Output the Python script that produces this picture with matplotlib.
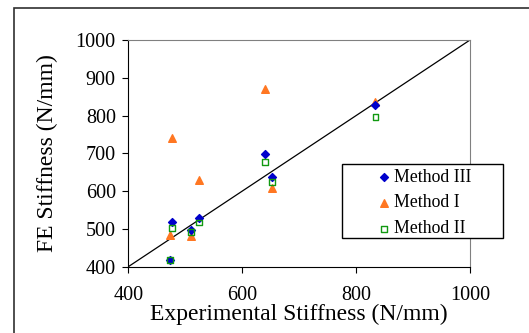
import matplotlib
matplotlib.use("Agg")
import matplotlib.pyplot as plt
from matplotlib.patches import Rectangle

# Data
exp_stiffness = [473, 476, 510, 524, 640, 653, 834]
method3 = [419, 517, 496, 530, 699, 637, 828]
method1 = [485, 740, 481, 629, 869, 609, 837]
method2 = [417, 503, 491, 517, 678, 623, 797]

ticks = [400, 600, 800, 1000]
yticks = [400, 500, 600, 700, 800, 900, 1000]

plt.rcParams['font.family'] = ['Liberation Serif', 'DejaVu Serif']

W, H = 529, 333
fig = plt.figure(figsize=(W / 100, H / 100), dpi=100)
ax_l, ax_r, ax_t, ax_b = 128.3, 470, 40, 266.7
ax = fig.add_axes([ax_l / W, 1 - ax_b / H, (ax_r - ax_l) / W, (ax_b - ax_t) / H])

# outer chart frame
fig.patches.append(Rectangle((13.5 / W, -0.1), 1.2, 1 - 7.5 / H + 0.1,
                             transform=fig.transFigure, fill=False,
                             edgecolor='#303030', linewidth=1.2))

ax.plot([400, 1000], [400, 1000], color='black', linewidth=0.9, zorder=1)
ax.scatter(exp_stiffness, method3, marker='D', s=16, color='#0000cc', label='Method III', zorder=3)
ax.scatter(exp_stiffness, method1, marker='^', s=30, color='#ff7722', label='Method I', zorder=2)
ax.scatter(exp_stiffness, method2, marker='s', s=18, facecolors='none', edgecolors='#119911',
           linewidths=1.0, label='Method II', zorder=4)

ax.set_xlim(400, 1000)
ax.set_ylim(400, 1000)
ax.set_xticks(ticks)
ax.set_yticks(yticks)
ax.tick_params(direction='out', length=4, width=0.8, labelsize=14.5, pad=5)
ax.tick_params(axis='x', pad=10)
for side in ['left', 'bottom']:
    ax.spines[side].set_color('black')
for side in ['top', 'right']:
    ax.spines[side].set_color('#808080')

ax.set_xlabel('Experimental Stiffness (N/mm)', fontsize=17, labelpad=-1)
ax.set_ylabel('FE Stiffness (N/mm)', fontsize=17, labelpad=13)

# legend box (about x 342..503, y 164..238 px), drawn separately
box = Rectangle((342 / W, 1 - 238 / H), (503 - 342) / W, (238 - 164) / H,
                transform=fig.transFigure, facecolor='white', edgecolor='black',
                linewidth=1.0, zorder=5)
fig.patches.append(box)
leg = fig.legend(loc='center left', bbox_to_anchor=(377 / W, 1 - 203 / H),
                 fontsize=12.8, frameon=False, borderpad=0, handletextpad=0.15,
                 labelspacing=0.5, handlelength=0.8, borderaxespad=0)
leg.set_zorder(6)

fig.savefig('out.png', dpi=100)
